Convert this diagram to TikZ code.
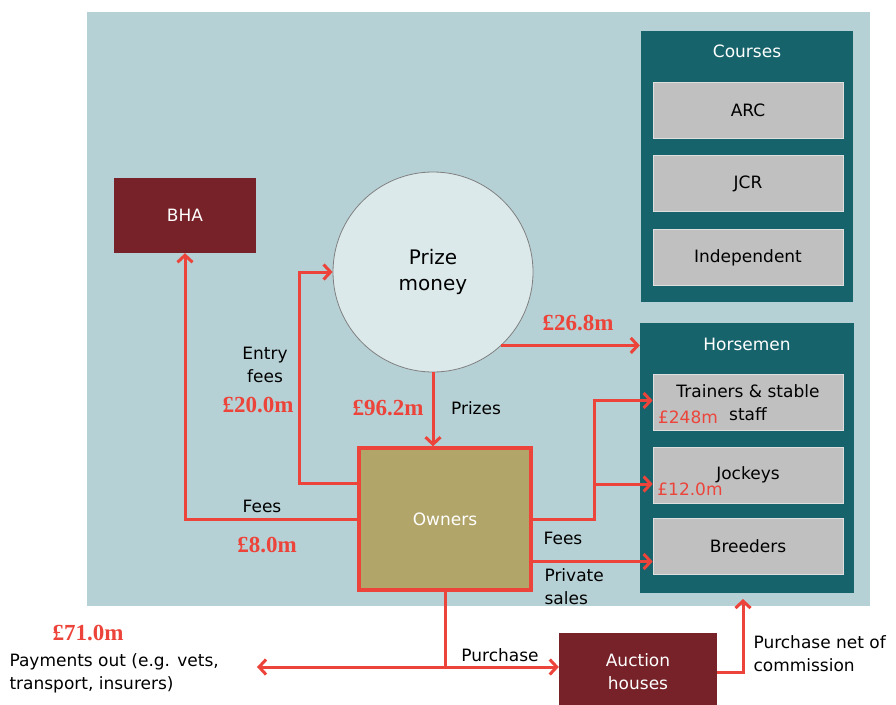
\documentclass[tikz,border=0pt]{standalone}
\usepackage{fontspec}
\setmainfont{DejaVu Sans}
\newfontfamily\amountfont{Liberation Serif}
\usetikzlibrary{arrows.meta}
\definecolor{bgblue}{RGB}{182,209,213}
\definecolor{panelteal}{RGB}{23,99,107}
\definecolor{boxgray}{RGB}{192,192,192}
\definecolor{darkred}{RGB}{118,34,40}
\definecolor{ownerfill}{RGB}{178,165,106}
\definecolor{prizefill}{RGB}{219,233,235}
\definecolor{flowred}{RGB}{236,68,58}
\begin{document}
\begin{tikzpicture}[x=1pt,y=-1pt,
    font=\fontsize{17}{23}\selectfont,
    panel/.style={fill=panelteal, minimum width=212pt, minimum height=271pt},
    title/.style={text=white},
    member/.style={fill=boxgray, draw=white!75!gray, line width=0.6pt,
        minimum width=190pt, minimum height=56pt, align=center},
    darkbox/.style={fill=darkred, text=white, align=center},
    flow/.style={draw=flowred, line width=3pt, -{Straight Barb[length=7pt,width=15pt,line width=3pt]}},
    line/.style={draw=flowred, line width=3pt},
    amount/.style={text=flowred, font=\amountfont\fontsize{23}{26}\selectfont\bfseries},
    lbl/.style={align=center}]
    \useasboundingbox (0,0) rectangle (896,704);
    % background
    \fill[bgblue] (87,12) rectangle (870,606);
    % Courses
    \node[panel] (courses) at (747,166.5) {};
    \node[title] (coursestitle) at (747,51) {Courses};
    \node[member] (arc) at (748,110) {ARC};
    \node[member] (jcr) at (748,183.5) {JCR};
    \node[member] (indep) at (748,257.5) {Independent};
    % Horsemen
    \node[panel, minimum width=214pt, minimum height=270pt] (horsemen) at (747,458) {};
    \node[title] (horsementitle) at (747,344) {Horsemen};
    \node[member] (trainers) at (748,402.5) {Trainers \& stable\\staff};
    \node[member] (jockeys) at (748,475) {Jockeys};
    \node[member] (breeders) at (748,546.5) {Breeders};
    \node[text=flowred] (trainersamt) at (688,417) {£248m};
    \node[text=flowred] (jockeysamt) at (690,489) {£12.0m};
    % other boxes
    \node[darkbox, minimum width=142pt, minimum height=75pt] (bha) at (185,215.5) {BHA};
    \node[circle, fill=prizefill, draw=gray, line width=0.8pt, minimum size=200pt, align=center,
        font=\fontsize{20}{26}\selectfont] (prize) at (433,272) {Prize\\money};
    \node[fill=ownerfill, draw=flowred, line width=3.5pt, minimum width=172pt, minimum height=142pt, text=white] (owners) at (445,519) {Owners};
    \node[darkbox, minimum width=158pt, minimum height=78pt] (auction) at (638,672) {Auction\\houses};
    % flows
    \draw[flow] (owners.west) -| (bha.south);
    \draw[flow] ([yshift=36pt]owners.west) -- ++(-58,0) |- (prize.west);
    \draw[flow] (prize.south) -- (prize.south |- owners.north);
    \draw[flow] (prize.-47) -- (prize.-47 -| horsemen.west);
    \coordinate (split) at ([xshift=62pt]owners.east);
    \coordinate (jk) at ([yshift=-9pt]jockeys.west);
    \coordinate (br) at ([yshift=-15pt]breeders.west);
    \draw[flow] (owners.east) -- (split) |- ([yshift=2pt]trainers.west);
    \draw[flow] (split |- jk) -- (jk);
    \draw[flow] (owners.east |- br) -- (br);
    \coordinate (aw) at ([yshift=5pt]auction.west);
    \coordinate (hub) at (owners.south |- aw);
    \coordinate (payend) at (257,667);
    \coordinate (hin) at (743,599);
    \draw[line] (owners.south) -- (hub);
    \draw[flow] (hub) -- (aw);
    \draw[flow] (hub) -- (payend);
    \draw[flow] (auction.east) -| (hin);
    % labels
    \node[lbl] (entrylbl) at (265,365) {Entry\\fees};
    \node[amount] (entryamt) at (258,405) {£20.0m};
    \node[amount] (prizeamt) at (388,408) {£96.2m};
    \node (prizelbl) at (476,408) {Prizes};
    \node[amount] (horseamt) at (578,323) {£26.8m};
    \node (feeslbl) at (262,506) {Fees};
    \node[amount] (bhaamt) at (267,545) {£8.0m};
    \node (feesright) at (563,538) {Fees};
    \node[align=left, anchor=west] (private) at (541,587) {Private\\sales};
    \node (purchase) at (500,655) {Purchase};
    \node[amount] (payamt) at (88,633) {£71.0m};
    \node[align=left, anchor=west] (payments) at (6,673) {Payments out (e.g. vets,\\transport, insurers)};
    \node[align=left, anchor=west] (netlbl) at (750,654) {Purchase net of\\commission};
\end{tikzpicture}
\end{document}
